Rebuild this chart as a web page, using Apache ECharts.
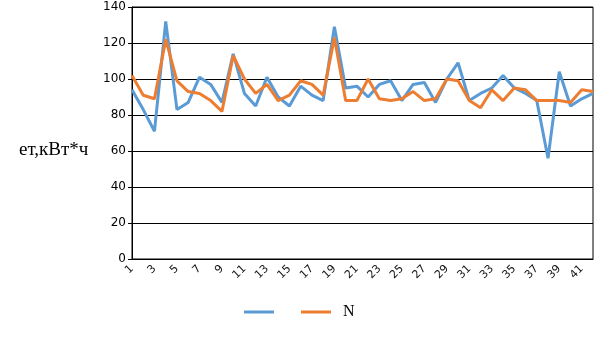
<!DOCTYPE html>
<html>
<head>
<meta charset="utf-8">
<script src="https://cdn.jsdelivr.net/npm/echarts@6/dist/echarts.min.js"></script>
<style>
  html, body { margin: 0; padding: 0; background: #fff; }
  #chart { width: 605px; height: 340px; }
</style>
</head>
<body>
<div id="chart"></div>
<script>
// Day numbers along the x axis
const days = Array.from({ length: 42 }, (_, i) => String(i + 1));

// Consumption, kWh
const seriesA = [94, 83, 71, 132, 83, 87, 101, 97, 87, 114, 92, 85, 101, 90, 85, 96, 91, 88, 129, 95,
                 96, 90, 97, 99, 88, 97, 98, 87, 100, 109, 88, 92, 95, 102, 95, 92, 88, 56, 104, 85, 89, 92];
const seriesN = [102, 91, 89, 122, 99, 93, 92, 88, 82, 113, 100, 92, 97, 88, 91, 99, 97, 91, 123, 88,
                 88, 100, 89, 88, 89, 93, 88, 89, 100, 99, 88, 84, 94, 88, 95, 94, 88, 88, 88, 87, 94, 93];

const yTicks = { min: 0, max: 140, interval: 20 };
const nameA = ' ';
const nameN = 'N';
const axisTitle = 'ет,кВт*ч';

const chart = echarts.init(document.getElementById('chart'), null, { renderer: 'canvas' });

chart.setOption({
  animation: false,
  backgroundColor: '#ffffff',
  grid: {
    left: 132, right: 12, top: 7, bottom: 81,
    show: true, borderColor: '#000', borderWidth: 1, backgroundColor: 'transparent'
  },
  legend: {
    left: 239, top: 299,
    itemWidth: 30, itemHeight: 3, itemGap: 11,
    icon: 'rect',
    textStyle: { fontFamily: 'Liberation Serif', fontSize: 16, color: '#000', padding: [0, 0, 0, 7] },
    data: [nameA, nameN]
  },
  xAxis: {
    type: 'category',
    data: days,
    boundaryGap: false,
    axisLine: { lineStyle: { color: '#000', width: 1 } },
    axisTick: { show: false },
    axisLabel: {
      interval: 1, rotate: 45, margin: 8,
      fontFamily: 'DejaVu Sans', fontSize: 11, color: '#111'
    },
    splitLine: { show: false }
  },
  yAxis: {
    type: 'value',
    min: yTicks.min, max: yTicks.max, interval: yTicks.interval,
    axisLine: { show: true, lineStyle: { color: '#000', width: 1 } },
    axisTick: { show: true, length: 4, lineStyle: { color: '#000' } },
    axisLabel: { margin: 6, fontFamily: 'DejaVu Sans', fontSize: 12, color: '#000' },
    splitLine: { lineStyle: { color: '#000', width: 1 } }
  },
  graphic: [{
    type: 'text',
    left: 19, top: 141,
    style: { text: axisTitle, font: '19px "Liberation Serif"', fill: '#000' }
  }],
  series: [
    {
      name: nameA, type: 'line', data: seriesA,
      symbol: 'none', itemStyle: { color: '#5B9BD5' },
      lineStyle: { color: '#5B9BD5', width: 3 }
    },
    {
      name: nameN, type: 'line', data: seriesN,
      symbol: 'none', itemStyle: { color: '#ED7D31' },
      lineStyle: { color: '#ED7D31', width: 3 }
    }
  ]
});
</script>
</body>
</html>
